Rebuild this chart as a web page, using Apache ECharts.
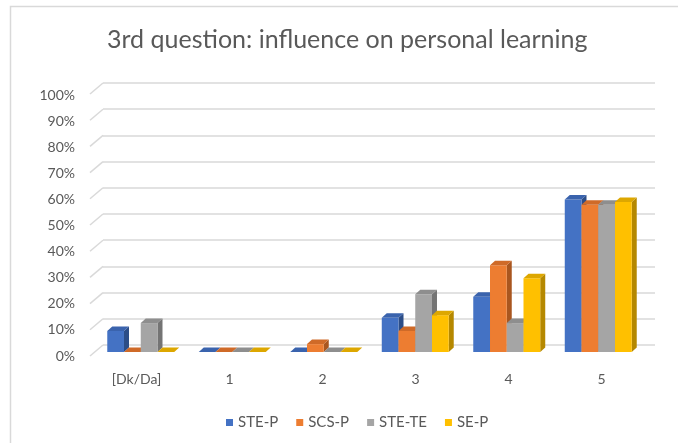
<!DOCTYPE html>
<html>
<head>
<meta charset="utf-8">
<script src="https://cdn.jsdelivr.net/npm/echarts@6/dist/echarts.min.js"></script>
<style>
  html, body { margin: 0; padding: 0; background: #fff; }
  #chart { width: 678px; height: 443px; }
</style>
</head>
<body>
<div id="chart"></div>
<script>
// data
const categories = ["[Dk/Da]", "1", "2", "3", "4", "5"];
const seriesNames = ["STE-P", "SCS-P", "STE-TE", "SE-P"];
const steP = [0.08, 0, 0, 0.13, 0.21, 0.58];
const scsP = [0, 0, 0.03, 0.08, 0.33, 0.56];
const steTE = [0.11, 0, 0, 0.22, 0.11, 0.56];
const seP = [0, 0, 0, 0.14, 0.28, 0.57];
const yTicks = [0, 0.1, 0.2, 0.3, 0.4, 0.5, 0.6, 0.7, 0.8, 0.9, 1];

const allValues = [steP, scsP, steTE, seP];
// front, top, side shades for the fake 3d columns
const colors = [
  ["#4472C4", "#3A63AD", "#2C4D87"],
  ["#ED7D31", "#CF6A28", "#A9561F"],
  ["#A5A5A5", "#8E8E8E", "#747474"],
  ["#FFC000", "#DDA700", "#B58800"],
];
const DX = 5, DY = -4.5;
const FONT = "Lato";

const chart = echarts.init(document.getElementById("chart"));

function barRender(idx) {
  return function (params, api) {
    const ci = api.value(0);
    const val = api.value(1);
    const base = api.coord([ci, 0]);
    const top = api.coord([ci, val]);
    const band = api.size([1, 0])[0];
    const bw = band * 0.183;
    const x0 = base[0] - 2 * bw + idx * bw;
    const x1 = x0 + bw;
    const c = colors[idx];
    return {
      type: "group",
      children: [
        {
          type: "polygon",
          shape: { points: [[x1, top[1]], [x1, base[1]], [x1 + DX, base[1] + DY], [x1 + DX, top[1] + DY]] },
          style: { fill: c[2] },
        },
        {
          type: "rect",
          shape: { x: x0, y: top[1], width: bw, height: base[1] - top[1] },
          style: { fill: c[0] },
        },
        {
          type: "polygon",
          shape: { points: [[x0, top[1]], [x1, top[1]], [x1 + DX, top[1] + DY], [x0 + DX, top[1] + DY]] },
          style: { fill: c[1] },
        },
      ],
    };
  };
}

const barSeries = seriesNames.map((name, i) => ({
  name: name,
  type: "custom",
  xAxisIndex: 0,
  yAxisIndex: 0,
  itemStyle: { color: colors[i][0] },
  renderItem: barRender(i),
  encode: { x: 0, y: 1 },
  data: allValues[i].map((v, k) => [k, v]),
}));

const option = {
  animation: false,
  backgroundColor: "#fff",
  graphic: [
    {
      type: "rect",
      shape: { x: 10.5, y: 6.5, width: 700, height: 500 },
      style: { fill: "none", stroke: "#d9d9d9", lineWidth: 1.5 },
      silent: true,
    },
  ],
  title: {
    text: "3rd question: influence on personal learning",
    left: 102,
    top: 22,
    textStyle: { fontFamily: FONT, fontSize: 25, fontWeight: "normal", color: "#595959" },
  },
  legend: {
    left: 221,
    top: 410,
    icon: "rect",
    itemWidth: 7,
    itemHeight: 7,
    itemGap: 18,
    data: seriesNames,
    textStyle: { fontFamily: FONT, fontSize: 15, color: "#595959" },
  },
  grid: [
    { left: 95, right: 34, top: 89, bottom: 91 },   // bars (mid depth)
    { left: 90, right: 30, top: 95, bottom: 87 },   // front plane labels
    { left: 103, right: 23, top: 83, bottom: 98 },  // back wall gridlines
  ],
  xAxis: [
    { gridIndex: 0, type: "category", data: categories, show: false },
    {
      gridIndex: 1,
      type: "category",
      data: categories,
      axisLine: { show: false },
      axisTick: { show: false },
      axisLabel: { margin: 16, fontFamily: FONT, fontSize: 14, color: "#595959" },
    },
    { gridIndex: 2, type: "value", min: 0, max: 1, show: false },
  ],
  yAxis: [
    { gridIndex: 0, type: "value", min: 0, max: 1, show: false },
    {
      gridIndex: 1,
      type: "value",
      min: 0,
      max: 1,
      interval: 0.1,
      axisLine: { show: false },
      axisTick: { show: false },
      splitLine: { show: false },
      axisLabel: {
        margin: 15,
        fontFamily: FONT,
        fontSize: 14,
        color: "#595959",
        formatter: (v) => Math.round(v * 100) + "%",
      },
    },
    {
      gridIndex: 2,
      type: "value",
      min: 0,
      max: 1,
      interval: 0.1,
      axisLine: { show: false },
      axisTick: { show: false },
      axisLabel: { show: false },
      splitLine: { lineStyle: { color: "#d9d9d9", width: 1.5 } },
    },
  ],
  series: [
    {
      // side wall connectors from the back wall down to the front labels
      type: "custom",
      xAxisIndex: 2,
      yAxisIndex: 2,
      silent: true,
      renderItem: function (params, api) {
        const p = api.coord([0, api.value(0)]);
        return {
          type: "line",
          shape: { x1: p[0], y1: p[1], x2: p[0] - 13, y2: p[1] + 11 },
          style: { stroke: "#d9d9d9", lineWidth: 1.5 },
        };
      },
      encode: { y: 0 },
      data: yTicks.map((t) => [t]),
      z: 1,
    },
    ...barSeries,
  ],
};

chart.setOption(option);
</script>
</body>
</html>
